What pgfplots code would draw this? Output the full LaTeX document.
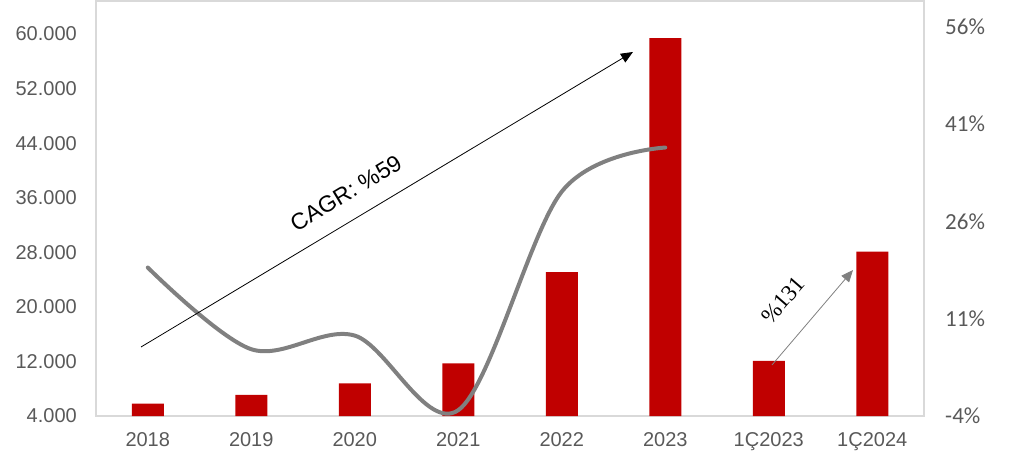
\documentclass[border=0pt]{standalone}
\usepackage{pgfplots}
\pgfplotsset{compat=1.18}
\usepackage{fontspec}
\setmainfont{Liberation Sans}
\newfontfamily\carlito{Carlito}
\newfontfamily\timesf{Liberation Serif}
\usetikzlibrary{arrows.meta}
\definecolor{barred}{HTML}{C00000}
\definecolor{linegray}{HTML}{808080}
\definecolor{txtgray}{HTML}{595959}
\definecolor{framegray}{HTML}{D9D9D9}
\begin{document}
\begin{tikzpicture}
\begin{axis}[
  scale only axis, width=828pt, height=415pt,
  xmin=-0.5, xmax=7.5, ymin=4000, ymax=64840,
  xtick={0,...,7},
  xticklabels={2018,2019,2020,2021,2022,2023,1Ç2023,1Ç2024},
  ytick={4000,12000,20000,28000,36000,44000,52000,60000},
  yticklabels={4.000,12.000,20.000,28.000,36.000,44.000,52.000,60.000},
  major tick length=0pt,
  axis line style={framegray, line width=1.3pt},
  tick label style={font=\fontsize{20}{24}\selectfont, text=txtgray},
  yticklabel style={anchor=east, inner sep=0pt, xshift=-19pt},
  xticklabel style={anchor=north, inner sep=0pt, yshift=-16pt},
]
\addplot[ybar, bar width=32pt, fill=barred, draw=none] coordinates {
  (0,5800) (1,7100) (2,8800) (3,11700) (4,25100) (5,59400) (6,12100) (7,28100)};
\coordinate (SW) at (rel axis cs:0,0);
\coordinate (NE) at (rel axis cs:1,1);
\coordinate (c1) at (axis cs:-0.065,14116);
\coordinate (c2) at (axis cs:4.688,57365);
\coordinate (ct) at (axis cs:1.915,36693);
\coordinate (q1) at (axis cs:6.031,11477);
\coordinate (q2) at (axis cs:6.814,25405);
\coordinate (qt) at (axis cs:6.138,21006);
\end{axis}
\begin{axis}[
  scale only axis, width=828pt, height=415pt,
  xmin=-0.5, xmax=7.5, ymin=-4, ymax=60,
  axis x line=none, axis y line*=right,
  ytick={-4,11,26,41,56},
  yticklabels={-4\%,11\%,26\%,41\%,56\%},
  major tick length=0pt,
  axis line style={framegray, line width=1.3pt},
  tick label style={font=\carlito\fontsize{23}{27}\selectfont, text=txtgray},
  yticklabel style={anchor=west, inner sep=0pt, xshift=21pt},
  clip=false,
]
\addplot[linegray, line width=4pt, line cap=round, smooth, tension=0.55] coordinates {
  (0,18.9) (1,6.3) (2,8.4) (3,-3.1) (4,30.6) (5,37.4)};
\end{axis}
\draw[black, line width=0.8pt, -{Triangle[length=12pt,width=10pt]}] (c1) -- (c2);
\node[rotate=31, font=\fontsize{23}{27}\selectfont] at (ct) {CAGR: \%59};
\draw[linegray, line width=0.8pt, -{Triangle[length=12pt,width=10pt]}] (q1) -- (q2);
\node[rotate=49, font=\timesf\fontsize{23}{27}\selectfont] at (qt) {\%131};
\pgfresetboundingbox
\path ([shift={(-96pt,-44pt)}]SW) rectangle ([shift={(90pt,1pt)}]NE);
\end{tikzpicture}
\end{document}
